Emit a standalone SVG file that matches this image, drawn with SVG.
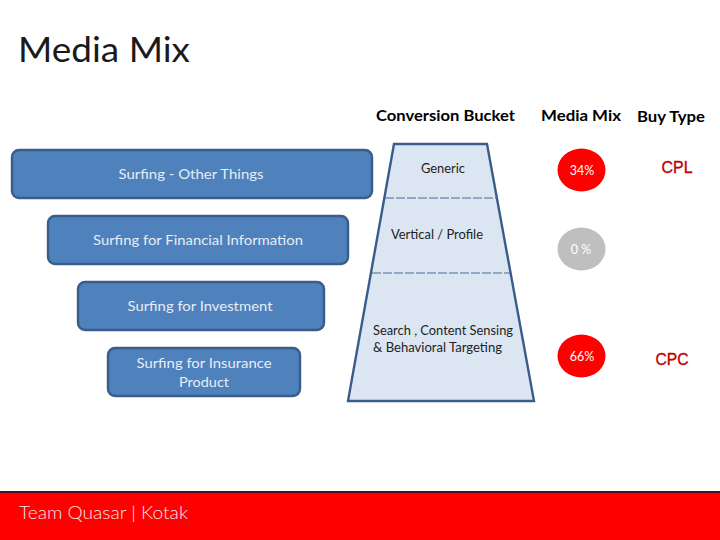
<svg xmlns="http://www.w3.org/2000/svg" width="720" height="540" viewBox="0 0 720 540">
<style>
text{font-family:Lato,"Open Sans","Liberation Sans",sans-serif}
.box{fill:#4f81bd;stroke:#385d8a;stroke-width:2.4}
.bl{fill:#e6edf5;font-size:14px;text-anchor:middle}
.dk{fill:#222;font-size:13px}
.hd{fill:#000;font-size:15.5px;font-weight:700}
.cr{fill:#fff;font-size:12.5px;text-anchor:middle}
.bt{fill:#c00000;stroke:#c00000;stroke-width:.35;font-family:"Liberation Sans",Arial,sans-serif;font-size:16px;text-anchor:middle}
.dash{stroke:#466a94;stroke-width:1;stroke-dasharray:9 2;fill:none}
</style>
<rect width="720" height="540" fill="#fff"/>
<text x="18" y="62" font-size="35" fill="#1a1a1a" textLength="172" lengthAdjust="spacingAndGlyphs">Media Mix</text>
<text class="hd" x="376" y="121" textLength="139" lengthAdjust="spacingAndGlyphs">Conversion Bucket</text>
<text class="hd" x="541" y="121" textLength="80" lengthAdjust="spacingAndGlyphs">Media Mix</text>
<text class="hd" x="637" y="122" textLength="68" lengthAdjust="spacingAndGlyphs">Buy Type</text>
<g id="node-other"><rect class="box" x="12" y="150" width="360" height="48" rx="7"/><text class="bl" x="191" y="179" textLength="145" lengthAdjust="spacingAndGlyphs">Surfing  - Other Things</text></g>
<g id="node-financial"><rect class="box" x="48" y="216" width="300" height="48" rx="7"/><text class="bl" x="198" y="245" textLength="210" lengthAdjust="spacingAndGlyphs">Surfing for Financial Information</text></g>
<g id="node-investment"><rect class="box" x="78" y="282" width="246" height="48" rx="7"/><text class="bl" x="200" y="311" textLength="145" lengthAdjust="spacingAndGlyphs">Surfing for Investment</text></g>
<g id="node-insurance"><rect class="box" x="108" y="348" width="192" height="48" rx="7"/><text class="bl" x="204" y="368" textLength="135" lengthAdjust="spacingAndGlyphs">Surfing for Insurance</text><text class="bl" x="204" y="387" textLength="50" lengthAdjust="spacingAndGlyphs">Product</text></g>
<g id="node-bucket">
<polygon points="394,144 487,144 534,401 348,401" fill="#dce6f2" stroke="#385d8a" stroke-width="2.4"/>
<line class="dash" x1="385" y1="198" x2="497" y2="198"/>
<line class="dash" x1="372" y1="273" x2="510" y2="273"/>
<text class="dk" x="421" y="173" textLength="44" lengthAdjust="spacingAndGlyphs">Generic</text>
<text class="dk" x="391" y="239" textLength="92" lengthAdjust="spacingAndGlyphs">Vertical / Profile</text>
<text class="dk" x="373" y="335" textLength="140" lengthAdjust="spacingAndGlyphs">Search , Content Sensing</text>
<text class="dk" x="373" y="352" textLength="129" lengthAdjust="spacingAndGlyphs">&amp; Behavioral Targeting</text>
</g>
<g id="node-mix-34"><ellipse cx="581.5" cy="170" rx="24" ry="21.5" fill="#fe0000"/><text class="cr" x="582" y="175">34%</text></g>
<g id="node-mix-0"><ellipse cx="581.5" cy="249" rx="24" ry="21.5" fill="#bfbfbf"/><text class="cr" x="581" y="254">0 %</text></g>
<g id="node-mix-66"><ellipse cx="581.5" cy="356" rx="24" ry="21.5" fill="#fe0000"/><text class="cr" x="582" y="361">66%</text></g>
<text class="bt" x="677" y="173" textLength="31" lengthAdjust="spacingAndGlyphs">CPL</text>
<text class="bt" x="672" y="365" textLength="33" lengthAdjust="spacingAndGlyphs">CPC</text>
<rect x="0" y="491" width="720" height="49" fill="#fe0000"/>
<rect x="0" y="491" width="720" height="2" fill="#4a0d2b"/>
<text x="19" y="519" font-size="18" fill="#f6e6e6" font-weight="300" textLength="169" lengthAdjust="spacingAndGlyphs">Team Quasar | Kotak</text>
</svg>
